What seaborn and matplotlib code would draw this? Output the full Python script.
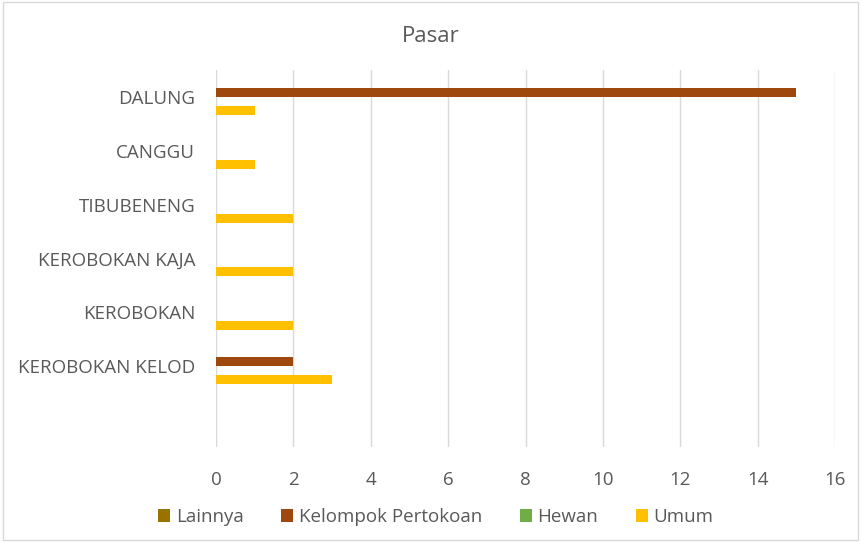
import pandas as pd
import seaborn as sns
import matplotlib.pyplot as plt
from matplotlib.patches import Rectangle

# data
desa = ['DALUNG', 'CANGGU', 'TIBUBENENG', 'KEROBOKAN KAJA', 'KEROBOKAN',
        'KEROBOKAN KELOD', ' ']
jenis = ['Lainnya', 'Kelompok Pertokoan', 'Hewan', 'Umum']
lainnya = [0, 0, 0, 0, 0, 0, 0]
pertokoan = [15, 0, 0, 0, 0, 2, 0]
hewan = [0, 0, 0, 0, 0, 0, 0]
umum = [1, 1, 2, 2, 2, 3, 0]
warna = ['#997300', '#9E480E', '#70AD47', '#FFC000']

rows = []
for j, vals in zip(jenis, [lainnya, pertokoan, hewan, umum]):
    for d, v in zip(desa, vals):
        rows.append({'Desa': d, 'Jenis': j, 'Jumlah': v})
df = pd.DataFrame(rows)

sns.set_theme(style='white')
plt.rcParams['font.family'] = ['Open Sans', 'DejaVu Sans']

fig = plt.figure(figsize=(8.61, 5.42), dpi=100)
ax = fig.add_axes([216/861, 1-447/542, (835-216)/861, (447-70)/542])

sns.barplot(data=df, y='Desa', x='Jumlah', hue='Jenis', order=desa,
            hue_order=jenis, palette=warna, orient='h', width=0.667,
            saturation=1, linewidth=0, ax=ax)

ax.set_xlim(0, 16)
ax.set_xticks(range(0, 17, 2))
ax.grid(axis='x', color='#D9D9D9', linewidth=1)
ax.set_axisbelow(True)
for s in ax.spines.values():
    s.set_visible(False)
ax.set_xlabel('')
ax.set_ylabel('')
ax.tick_params(axis='both', length=0, labelsize=13.5, colors='#595959')
ax.tick_params(axis='x', pad=17)
ax.tick_params(axis='y', pad=15)

fig.text(0.5, 1-36/542, 'Pasar', ha='center', va='center', fontsize=16,
         color='#595959')

ax.legend(loc='center', ncol=4, frameon=False, fontsize=13.5,
          handlelength=0.65, handleheight=0.65, handletextpad=0.3,
          columnspacing=2.0, labelcolor='#595959')
leg = ax.get_legend()
leg.set_bbox_to_anchor((0.506, 1-517/542), transform=fig.transFigure)

fig.patches.append(Rectangle((0.004, 0.004), 0.992, 0.992, transform=fig.transFigure,
                             fill=False, edgecolor='#D9D9D9', linewidth=1))

plt.savefig('out.png', dpi=100)
